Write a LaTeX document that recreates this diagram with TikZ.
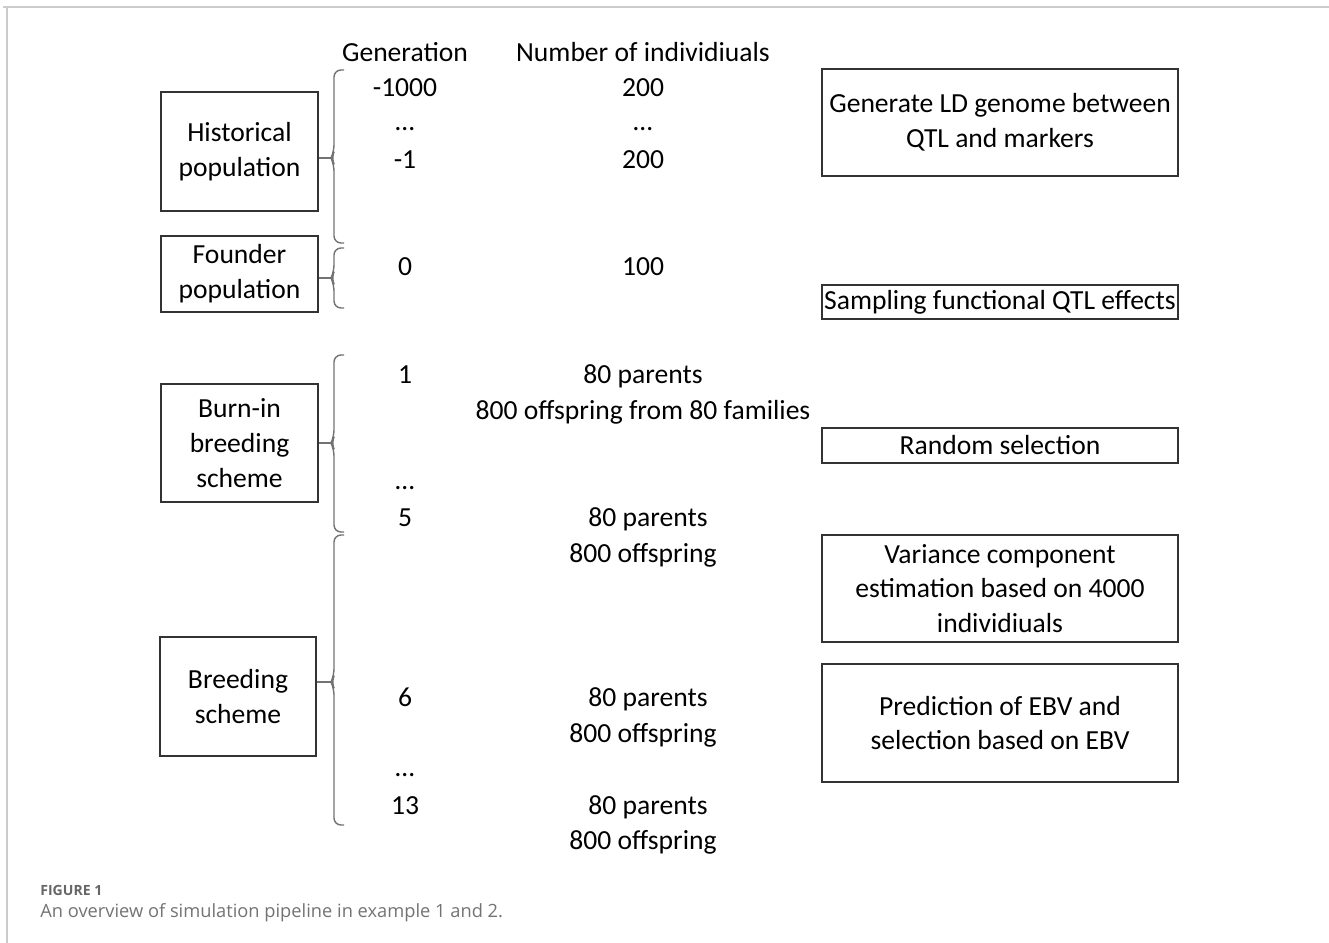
\documentclass[tikz,border=0pt]{standalone}
\usepackage{fontspec}
\setmainfont{Carlito}
\newfontfamily\captionfont{Open Sans}
\begin{document}
\begin{tikzpicture}[
        x=0.02cm, y=-0.02cm,
        every node/.style={font=\fontsize{15.7}{19.8}\selectfont, inner sep=0pt},
        stage box/.style={draw=black!80, line width=0.8pt, minimum width=3.14cm, align=center},
        task box/.style={draw=black!80, line width=0.8pt, minimum width=7.12cm, align=center},
        entry/.style={anchor=base},
        brace line/.style={draw=black!55, line width=0.8pt, rounded corners=4pt},
        link/.style={draw=black!55, line width=0.8pt},
        frame line/.style={draw=black!20, line width=0.8pt},
    ]
	\useasboundingbox (0,0) rectangle (1329,943);
	\draw[frame line] (3,7) -- (1329,7);
	\draw[frame line] (7,7) -- (7,943);
	% stages
	\node[stage box, minimum height=2.38cm] (hist) at (239.5,151.5) {Historical\\population};
	\node[stage box, minimum height=1.52cm] (found) at (239.5,274) {Founder\\population};
	\node[stage box, minimum height=2.36cm] (burn) at (239.5,443) {Burn-in\\breeding\\scheme};
	\node[stage box, minimum height=2.38cm, minimum width=3.12cm] (breed) at (238,696.5) {Breeding\\scheme};
	% braces
	\coordinate (b_hist) at (331,158);
	\coordinate (b_found) at (331,278);
	\coordinate (b_burn) at (331,443);
	\coordinate (b_breed) at (331,682);
	\draw[brace line] (344,70) -- (334,70) -- (334,152) -- (b_hist) -- (334,164) -- (334,243) -- (344,243);
	\draw[brace line] (344,248) -- (334,248) -- (334,272) -- (b_found) -- (334,284) -- (334,308) -- (344,308);
	\draw[brace line] (344,355) -- (334,355) -- (334,437) -- (b_burn) -- (334,449) -- (334,532) -- (344,532);
	\draw[brace line] (344,535) -- (334,535) -- (334,676) -- (b_breed) -- (334,688) -- (334,825) -- (344,825);
	\draw[link] (b_hist -| hist.east) -- (b_hist);
	\draw[link] (b_found -| found.east) -- (b_found);
	\draw[link] (b_burn -| burn.east) -- (b_burn);
	\draw[link] (b_breed -| breed.east) -- (b_breed);
	% generations and sizes
	\node[entry] (gen_head) at (405,61) {Generation};
	\node[entry] (num_head) at (643,61) {Number of individiuals};
	\node[entry] (gen_a) at (405,96) {-1000};
	\node[entry] (num_a) at (643,96) {200};
	\node (gen_b) at (405,129) {…};
	\node (num_b) at (643,129) {…};
	\node[entry] (gen_c) at (405,168) {-1};
	\node[entry] (num_c) at (643,168) {200};
	\node[entry] (gen_d) at (405,275) {0};
	\node[entry] (num_d) at (643,275) {100};
	\node[entry] (gen_e) at (405,383) {1};
	\node[entry] (num_e) at (643,383) {80 parents};
	\node[entry] (num_f) at (643,419) {800 offspring from 80 families};
	\node (gen_g) at (405,488) {…};
	\node[entry] (gen_h) at (405,526) {5};
	\node[entry] (num_h) at (648,526) {80 parents};
	\node[entry] (num_i) at (643,562) {800 offspring};
	\node[entry] (gen_j) at (405,706) {6};
	\node[entry] (num_j) at (648,706) {80 parents};
	\node[entry] (num_k) at (643,742) {800 offspring};
	\node (gen_l) at (405,775) {…};
	\node[entry] (gen_m) at (405,814) {13};
	\node[entry] (num_m) at (648,814) {80 parents};
	\node[entry] (num_n) at (643,849) {800 offspring};
	% tasks
	\node[task box, minimum height=2.14cm] (ld) at (1000,122.5) {Generate LD genome between\\QTL and markers};
	\node[task box, minimum height=0.68cm] (qtl) at (1000,302) {Sampling functional QTL effects};
	\node[task box, minimum height=0.7cm] (rand) at (1000,445.5) {Random selection};
	\node[task box, minimum height=2.14cm] (var) at (1000,588.5) {Variance component\\estimation based on 4000\\individiuals};
	\node[task box, minimum height=2.36cm] (ebv) at (1000,723) {Prediction of EBV and\\selection based on EBV};
	% caption
	\node[anchor=base west, font=\captionfont\bfseries\fontsize{8}{10}\selectfont, text=black!60] (fig) at (40,895) {FIGURE 1};
	\node[anchor=base west, font=\captionfont\fontsize{10.4}{12}\selectfont, text=black!55] (cap) at (40,917) {An overview of simulation pipeline in example 1 and 2.};
    \end{tikzpicture}
\end{document}
